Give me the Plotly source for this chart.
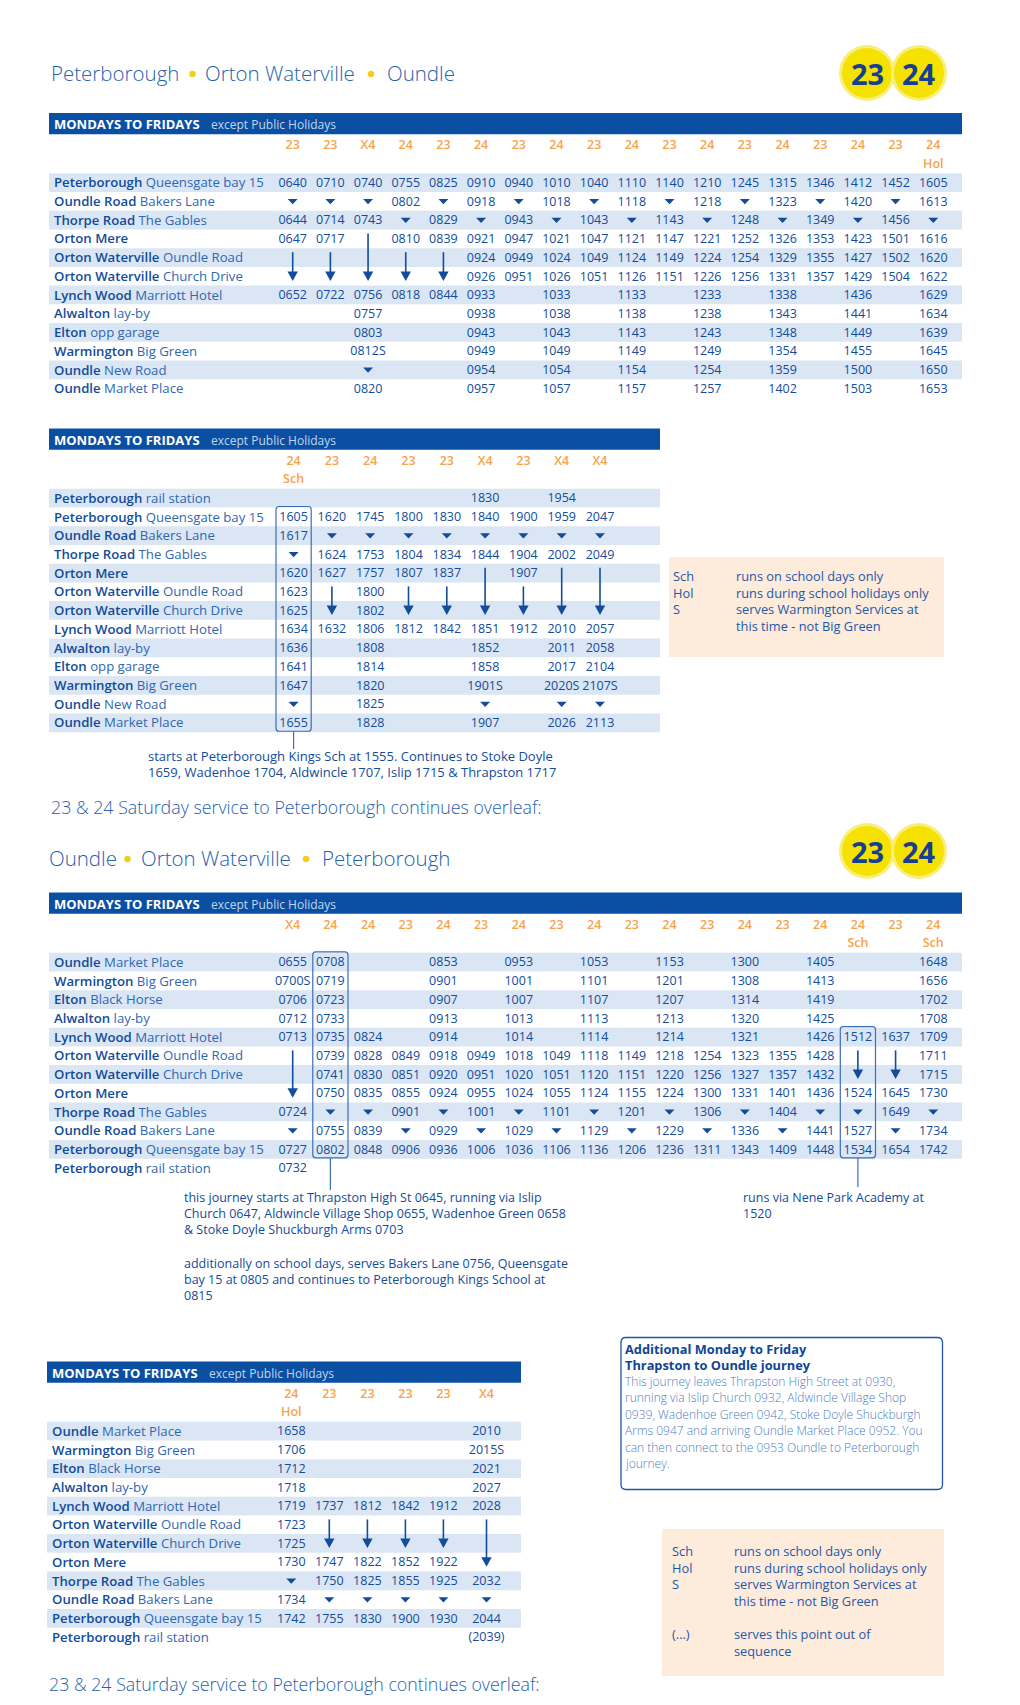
import plotly.graph_objects as go

W, H = 1020, 1705
NAVY = "#0a4fa2"
DARK = "#124c9b"
LIGHT = "#2e68b4"
ORANGE = "#f7a34c"
STRIPE = "#dae6f4"
PEACH = "#fdebdc"
YELLOW = "#f6e200"
RING = "#f9ee7c"
FONT = "Open Sans"

###################################
# Data
title_out = ["Peterborough", "Orton Waterville", "Oundle"]
title_back = ["Oundle", "Orton Waterville", "Peterborough"]
overleaf = "23 & 24 Saturday service to Peterborough continues overleaf:"
logo_routes = ["23", "24"]

stops_out = [("Peterborough", "Queensgate bay 15"), ("Oundle Road", "Bakers Lane"),
             ("Thorpe Road", "The Gables"), ("Orton Mere", ""),
             ("Orton Waterville", "Oundle Road"), ("Orton Waterville", "Church Drive"),
             ("Lynch Wood", "Marriott Hotel"), ("Alwalton", "lay-by"),
             ("Elton", "opp garage"), ("Warmington", "Big Green"),
             ("Oundle", "New Road"), ("Oundle", "Market Place")]
stops_out2 = [("Peterborough", "rail station")] + stops_out
stops_back = [("Oundle", "Market Place"), ("Warmington", "Big Green"),
              ("Elton", "Black Horse"), ("Alwalton", "lay-by"),
              ("Lynch Wood", "Marriott Hotel"), ("Orton Waterville", "Oundle Road"),
              ("Orton Waterville", "Church Drive"), ("Orton Mere", ""),
              ("Thorpe Road", "The Gables"), ("Oundle Road", "Bakers Lane"),
              ("Peterborough", "Queensgate bay 15"), ("Peterborough", "rail station")]

# v = passes without stopping, | = runs via other road, V = arrives below, - = no service
t1_routes = "23 23 X4 24 23 24 23 24 23 24 23 24 23 24 23 24 23 24".split()
t1_flags = [""] * 17 + ["Hol"]
t1_rows = [
    "0640 0710 0740 0755 0825 0910 0940 1010 1040 1110 1140 1210 1245 1315 1346 1412 1452 1605",
    "v v v 0802 v 0918 v 1018 v 1118 v 1218 v 1323 v 1420 v 1613",
    "0644 0714 0743 v 0829 v 0943 v 1043 v 1143 v 1248 v 1349 v 1456 v",
    "0647 0717 | 0810 0839 0921 0947 1021 1047 1121 1147 1221 1252 1326 1353 1423 1501 1616",
    "| | | | | 0924 0949 1024 1049 1124 1149 1224 1254 1329 1355 1427 1502 1620",
    "V V V V V 0926 0951 1026 1051 1126 1151 1226 1256 1331 1357 1429 1504 1622",
    "0652 0722 0756 0818 0844 0933 - 1033 - 1133 - 1233 - 1338 - 1436 - 1629",
    "- - 0757 - - 0938 - 1038 - 1138 - 1238 - 1343 - 1441 - 1634",
    "- - 0803 - - 0943 - 1043 - 1143 - 1243 - 1348 - 1449 - 1639",
    "- - 0812S - - 0949 - 1049 - 1149 - 1249 - 1354 - 1455 - 1645",
    "- - v - - 0954 - 1054 - 1154 - 1254 - 1359 - 1500 - 1650",
    "- - 0820 - - 0957 - 1057 - 1157 - 1257 - 1402 - 1503 - 1653",
]

t2_routes = "24 23 24 23 23 X4 23 X4 X4".split()
t2_flags = ["Sch"] + [""] * 8
t2_rows = [
    "- - - - - 1830 - 1954 -",
    "1605 1620 1745 1800 1830 1840 1900 1959 2047",
    "1617 v v v v v v v v",
    "v 1624 1753 1804 1834 1844 1904 2002 2049",
    "1620 1627 1757 1807 1837 | 1907 | |",
    "1623 | 1800 | | | | | |",
    "1625 V 1802 V V V V V V",
    "1634 1632 1806 1812 1842 1851 1912 2010 2057",
    "1636 - 1808 - - 1852 - 2011 2058",
    "1641 - 1814 - - 1858 - 2017 2104",
    "1647 - 1820 - - 1901S - 2020S 2107S",
    "v - 1825 - - v - v v",
    "1655 - 1828 - - 1907 - 2026 2113",
]
t2_boxes = [(0, 1, 12)]  # (column, first row, last row)
t2_note = ["starts at Peterborough Kings Sch at 1555. Continues to Stoke Doyle",
           "1659, Wadenhoe 1704, Aldwincle 1707, Islip 1715 & Thrapston 1717"]

t3_routes = "X4 24 24 23 24 23 24 23 24 23 24 23 24 23 24 24 23 24".split()
t3_flags = [""] * 15 + ["Sch", "", "Sch"]
t3_rows = [
    "0655 0708 - - 0853 - 0953 - 1053 - 1153 - 1300 - 1405 - - 1648",
    "0700S 0719 - - 0901 - 1001 - 1101 - 1201 - 1308 - 1413 - - 1656",
    "0706 0723 - - 0907 - 1007 - 1107 - 1207 - 1314 - 1419 - - 1702",
    "0712 0733 - - 0913 - 1013 - 1113 - 1213 - 1320 - 1425 - - 1708",
    "0713 0735 0824 - 0914 - 1014 - 1114 - 1214 - 1321 - 1426 1512 1637 1709",
    "| 0739 0828 0849 0918 0949 1018 1049 1118 1149 1218 1254 1323 1355 1428 | | 1711",
    "| 0741 0830 0851 0920 0951 1020 1051 1120 1151 1220 1256 1327 1357 1432 V V 1715",
    "V 0750 0835 0855 0924 0955 1024 1055 1124 1155 1224 1300 1331 1401 1436 1524 1645 1730",
    "0724 v v 0901 v 1001 v 1101 v 1201 v 1306 v 1404 v v 1649 v",
    "v 0755 0839 v 0929 v 1029 v 1129 v 1229 v 1336 v 1441 1527 v 1734",
    "0727 0802 0848 0906 0936 1006 1036 1106 1136 1206 1236 1311 1343 1409 1448 1534 1654 1742",
    "0732 - - - - - - - - - - - - - - - - -",
]
t3_boxes = [(1, 0, 10), (15, 4, 10)]
t3_note_a = ["this journey starts at Thrapston High St 0645, running via Islip",
             "Church 0647, Aldwincle Village Shop 0655, Wadenhoe Green 0658",
             "& Stoke Doyle Shuckburgh Arms 0703"]
t3_note_b = ["runs via Nene Park Academy at", "1520"]
t3_note_c = ["additionally on school days, serves Bakers Lane 0756, Queensgate",
             "bay 15 at 0805 and continues to Peterborough Kings School at",
             "0815"]

t4_routes = "24 23 23 23 23 X4".split()
t4_flags = ["Hol"] + [""] * 5
t4_rows = [
    "1658 - - - - 2010",
    "1706 - - - - 2015S",
    "1712 - - - - 2021",
    "1718 - - - - 2027",
    "1719 1737 1812 1842 1912 2028",
    "1723 | | | | |",
    "1725 V V V V |",
    "1730 1747 1822 1852 1922 V",
    "v 1750 1825 1855 1925 2032",
    "1734 v v v v v",
    "1742 1755 1830 1900 1930 2044",
    "- - - - - (2039)",
]

key_short = [("Sch", "runs on school days only"),
             ("Hol", "runs during school holidays only"),
             ("S", "serves Warmington Services at"),
             ("", "this time - not Big Green")]
key_long = key_short + [("", ""), ("(...)", "serves this point out of"), ("", "sequence")]

extra_title = ["Additional Monday to Friday", "Thrapston to Oundle journey"]
extra_body = ["This journey leaves Thrapston High Street at 0930,",
              "running via Islip Church 0932, Aldwincle Village Shop",
              "0939, Wadenhoe Green 0942, Stoke Doyle Shuckburgh",
              "Arms 0947 and arriving Oundle Market Place 0952. You",
              "can then connect to the 0953 Oundle to Peterborough",
              "journey."]

###################################
# Layout helpers
PITCH = 18.72
shapes = []
annots = []
fig = go.Figure()


def text(x, y, s, size=13, color=DARK, anchor="left", weight="normal", family=FONT):
    if anchor == "left":
        x -= 2.5  # annotation box padding
    annots.append(dict(x=x, y=y, text=s, showarrow=False, xanchor=anchor, yanchor="middle",
                       font=dict(size=size, color=color, family=family, weight=weight)))


def rrect(xa, ya, xb, yb, r):
    return (f"M{xa + r},{ya} L{xb - r},{ya} Q{xb},{ya} {xb},{ya + r} L{xb},{yb - r} "
            f"Q{xb},{yb} {xb - r},{yb} L{xa + r},{yb} Q{xa},{yb} {xa},{yb - r} "
            f"L{xa},{ya + r} Q{xa},{ya} {xa + r},{ya} Z")


def title(word_x, dot_x, y, parts, size=20.5):
    for x, p in zip(word_x, parts):
        text(x, y, p, size=size, color="#2561b0", weight=300)
    fig.add_trace(go.Scatter(x=dot_x, y=[y + 1] * len(dot_x), mode="markers",
                             marker=dict(symbol="circle", size=6.5, color="#f2cf1a")))


def logo(y):
    for k, r in enumerate(logo_routes):
        cx = 867 + 52 * k
        shapes.append(dict(type="circle", x0=cx - 28, x1=cx + 28, y0=y - 28, y1=y + 28,
                           fillcolor=RING, line_width=0, layer="below"))
        shapes.append(dict(type="circle", x0=cx - 25, x1=cx + 25, y0=y - 25, y1=y + 25,
                           fillcolor=YELLOW, line_width=0, layer="below"))
        text(cx, y, r, size=29, color="#163f8f", anchor="center", weight="bold")


def draw_table(top, x0, x1, cols, routes, flags, stops, rows, boxes=()):
    shapes.append(dict(type="rect", x0=x0, x1=x1, y0=top, y1=top + 21.3,
                       fillcolor=NAVY, line_width=0, layer="below"))
    text(x0 + 5.5, top + 11, "MONDAYS TO FRIDAYS", size=13, color="white", weight="bold")
    text(x0 + 162.5, top + 11.5, "except Public Holidays", size=12, color="#c3d5ee")
    ys = [top + 70.3 + i * PITCH for i in range(len(stops))]
    for i in range(0, len(stops), 2):
        shapes.append(dict(type="rect", x0=x0, x1=x1, y0=ys[i] - 10, y1=ys[i] + 8.7,
                           fillcolor=STRIPE, line_width=0, layer="below"))
    fig.add_trace(go.Scatter(x=cols, y=[top + 33.3] * len(cols), text=routes, mode="text",
                             textfont=dict(family=FONT, size=12.5, color=ORANGE, weight=600)))
    fig.add_trace(go.Scatter(x=cols, y=[top + 51.5] * len(cols), text=flags, mode="text",
                             textfont=dict(family=FONT, size=12.5, color=ORANGE, weight=600)))
    for (a, b), y in zip(stops, ys):
        text(x0 + 5.5, y - 1, f"<span style='font-weight:600'>{a}</span> "
                              f"<span style='color:{LIGHT}'>{b}</span>", size=13.2)
    grid = [r.split() for r in rows]
    tx, ty, tt = [], [], []
    px, py = [], []
    lx, ly = [], []
    for i, row in enumerate(grid):
        for j, tok in enumerate(row):
            cx, cy = cols[j], ys[i]
            if tok in ("-", "|"):
                continue
            if tok == "v":
                px += [cx - 5, cx + 5, cx, cx - 5, None]
                py += [cy - 3, cy - 3, cy + 2.3, cy - 3, None]
            elif tok == "V":
                k = i
                while k > 0 and grid[k - 1][j] == "|":
                    k -= 1
                lx += [cx, cx, None]
                ly += [ys[k] - 6, cy - 4, None]
                px += [cx - 5.2, cx + 5.2, cx, cx - 5.2, None]
                py += [cy - 5.5, cy - 5.5, cy + 4, cy - 5.5, None]
            else:
                tx.append(cx)
                ty.append(cy + 0.5)
                tt.append(tok)
    fig.add_trace(go.Scatter(x=lx, y=ly, mode="lines", line=dict(color=DARK, width=1.6)))
    fig.add_trace(go.Scatter(x=px, y=py, mode="lines", fill="toself", fillcolor=DARK,
                             line=dict(width=0, color=DARK)))
    fig.add_trace(go.Scatter(x=tx, y=ty, text=tt, mode="text",
                             textfont=dict(family=FONT, size=12.5, color=DARK)))
    outs = []
    for c, r0, r1 in boxes:
        yb = ys[r1] + 7.8
        shapes.append(dict(type="path", path=rrect(cols[c] - 17.6, ys[r0] - 11, cols[c] + 17.6, yb, 3),
                           line=dict(color="#3c6fb6", width=1.2)))
        outs.append((cols[c], yb))
    return outs


def connector(x, y0, y1):
    shapes.append(dict(type="line", x0=x, x1=x, y0=y0, y1=y1, line=dict(color="#3c6fb6", width=1.2)))


def lines(x, y, rows, lh, size=12.5, color=DARK, weight="normal", family=FONT):
    for k, s in enumerate(rows):
        if s:
            text(x, y + k * lh, s, size=size, color=color, weight=weight, family=family)


def key_box(bx0, by0, bx1, by1, kx, dx, y, entries):
    shapes.append(dict(type="rect", x0=bx0, x1=bx1, y0=by0, y1=by1, fillcolor=PEACH,
                       line_width=0, layer="below"))
    lines(kx, y, [e[0] for e in entries], 16.65, size=12.8, color="#1d58a8")
    lines(dx, y, [e[1] for e in entries], 16.65, size=12.8, color="#1d58a8")


###################################
# Outward page
title([51, 205, 387], [192.5, 371], 73, title_out)
logo(73)
cols18 = [292.7 + 37.68 * i for i in range(18)]
draw_table(113, 49, 962, cols18, t1_routes, t1_flags, stops_out, t1_rows)

cols9 = [293.6 + 38.3 * i for i in range(9)]
b2 = draw_table(428.5, 49, 660, cols9, t2_routes, t2_flags, stops_out2, t2_rows, t2_boxes)
connector(b2[0][0], b2[0][1], 749)
lines(148.5, 755.5, t2_note, 16.7, size=13)
key_box(669, 557, 944, 657, 673, 736, 576, key_short)

text(51, 807, overleaf, size=17.8, color="#2561b0", weight=300)

###################################
# Return page
title([49, 141.5, 322], [127.5, 306], 858, title_back)
logo(851)
b3 = draw_table(892.5, 49, 962, cols18, t3_routes, t3_flags, stops_back, t3_rows, t3_boxes)
connector(b3[0][0], b3[0][1], 1190)
connector(b3[1][0], b3[1][1], 1187)
lines(184, 1197, t3_note_a, 16)
lines(743.5, 1197, t3_note_b, 16)
lines(184, 1263, t3_note_c, 16.2)

cols6 = [291.3, 329.3, 367.4, 405.4, 443.4, 486.5]
draw_table(1361.5, 47, 521, cols6, t4_routes, t4_flags, stops_back, t4_rows)

shapes.append(dict(type="path", path=rrect(621, 1337.5, 942.5, 1489.5, 5),
                   line=dict(color="#1f56a6", width=1.3)))
lines(625.5, 1348.5, extra_title, 16.4, size=12.8, color="#0f4595", weight="bold")
lines(625.5, 1381, extra_body, 16.5, size=12, color="#4c7ec2", weight=300)
key_box(662, 1529, 944, 1676, 672, 734, 1551, key_long)

text(49, 1684, overleaf, size=17.8, color="#2561b0", weight=300)

fig.update_layout(width=W, height=H, margin=dict(l=0, r=0, t=0, b=0),
                  paper_bgcolor="white", plot_bgcolor="white", showlegend=False,
                  xaxis=dict(range=[0, W], visible=False, fixedrange=True),
                  yaxis=dict(range=[H, 0], visible=False, fixedrange=True),
                  shapes=shapes, annotations=annots)

fig.write_html("out.html", config={"displayModeBar": False},
               post_script="document.body.style.margin='0';")
